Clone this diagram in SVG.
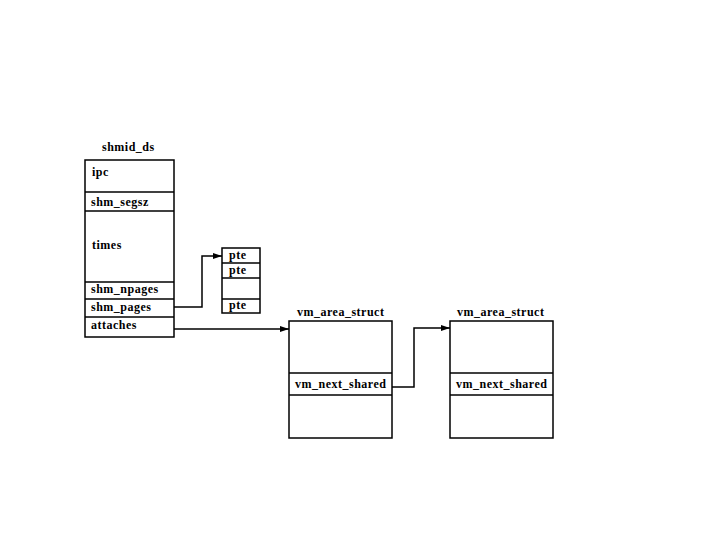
<svg xmlns="http://www.w3.org/2000/svg" width="720" height="540" viewBox="0 0 720 540">
<style>
.box{fill:none;stroke:#000;stroke-width:1.5}
.ln{stroke:#000;stroke-width:1.5}
text{font-family:"Liberation Serif","Times New Roman",serif;font-size:12px;font-weight:bold;letter-spacing:0.5px;fill:#000}
.c{fill:none;stroke:#000;stroke-width:1.5}
</style>
<defs>
<marker id="ah" markerWidth="9" markerHeight="6" refX="9" refY="3" orient="auto" markerUnits="userSpaceOnUse">
<path d="M0,0 L9,3 L0,6 Z" fill="#000"/>
</marker>
</defs>
<rect width="720" height="540" fill="#fff"/>
<g id="shmid_ds">
<text x="102" y="151">shmid_ds</text>
<rect class="box" x="85" y="160" width="89" height="177"/>
<line class="ln" x1="85" y1="192" x2="174" y2="192"/>
<line class="ln" x1="85" y1="211" x2="174" y2="211"/>
<line class="ln" x1="85" y1="282" x2="174" y2="282"/>
<line class="ln" x1="85" y1="299" x2="174" y2="299"/>
<line class="ln" x1="85" y1="317" x2="174" y2="317"/>
<text x="92" y="176">ipc</text>
<text x="91" y="206">shm_segsz</text>
<text x="92" y="249">times</text>
<text x="91" y="293">shm_npages</text>
<text x="91" y="311">shm_pages</text>
<text x="91" y="329">attaches</text>
</g>
<g id="pte_table">
<rect class="box" x="222" y="248" width="38" height="65"/>
<line class="ln" x1="222" y1="263" x2="260" y2="263"/>
<line class="ln" x1="222" y1="278" x2="260" y2="278"/>
<line class="ln" x1="222" y1="299" x2="260" y2="299"/>
<text x="229" y="259">pte</text>
<text x="229" y="274">pte</text>
<text x="229" y="309">pte</text>
</g>
<g id="vm_area_1">
<text x="297" y="316">vm_area_struct</text>
<rect class="box" x="289" y="321" width="103" height="117"/>
<line class="ln" x1="289" y1="373" x2="392" y2="373"/>
<line class="ln" x1="289" y1="395" x2="392" y2="395"/>
<text x="295" y="388">vm_next_shared</text>
</g>
<g id="vm_area_2">
<text x="457" y="316">vm_area_struct</text>
<rect class="box" x="450" y="321" width="103" height="117"/>
<line class="ln" x1="450" y1="373" x2="553" y2="373"/>
<line class="ln" x1="450" y1="395" x2="553" y2="395"/>
<text x="456" y="388">vm_next_shared</text>
</g>
<g id="connectors">
<polyline class="c" points="174,307 202,307 202,256 222,256" marker-end="url(#ah)"/>
<polyline class="c" points="174,329 289,329" marker-end="url(#ah)"/>
<polyline class="c" points="392,387 414,387 414,328 450,328" marker-end="url(#ah)"/>
</g>
</svg>
